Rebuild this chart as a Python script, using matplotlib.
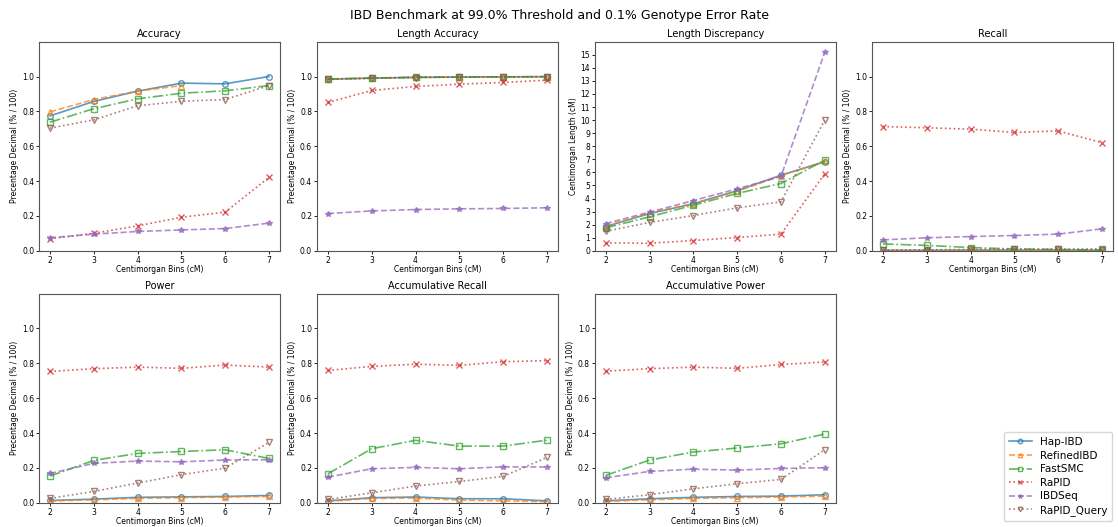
import numpy as np
import matplotlib
matplotlib.use("Agg")
import matplotlib.pyplot as plt

bins = [2, 3, 4, 5, 6, 7]
tools = ["Hap-IBD", "RefinedIBD", "FastSMC", "RaPID", "IBDSeq", "RaPID_Query"]
nan = np.nan

accuracy = {
    "Hap-IBD":     [0.774, 0.857, 0.916, 0.962, 0.958, 1.000],
    "RefinedIBD":  [0.797, 0.868, 0.916, 0.948, nan, nan],
    "FastSMC":     [0.738, 0.815, 0.872, 0.904, 0.918, 0.948],
    "RaPID":       [0.069, 0.101, 0.143, 0.193, 0.222, 0.421],
    "IBDSeq":      [0.075, 0.096, 0.111, 0.120, 0.128, 0.159],
    "RaPID_Query": [0.704, 0.751, 0.832, 0.858, 0.868, 0.948],
}
length_accuracy = {
    "Hap-IBD":     [0.985, 0.991, 0.995, 0.997, 0.998, 0.999],
    "RefinedIBD":  [0.984, 0.990, 0.995, 0.997, 0.998, 0.999],
    "FastSMC":     [0.986, 0.991, 0.996, 0.997, 0.998, 0.999],
    "RaPID":       [0.851, 0.920, 0.943, 0.956, 0.966, 0.979],
    "IBDSeq":      [0.214, 0.229, 0.237, 0.241, 0.243, 0.247],
    "RaPID_Query": [0.983, 0.990, 0.994, 0.996, 0.997, 0.998],
}
length_discrepancy = {
    "Hap-IBD":     [1.86, 2.85, 3.60, 4.60, 5.79, 6.81],
    "RefinedIBD":  [1.90, 2.90, 3.62, 4.55, 5.75, 6.85],
    "FastSMC":     [1.76, 2.60, 3.49, 4.39, 5.15, 6.94],
    "RaPID":       [0.61, 0.58, 0.79, 1.02, 1.28, 5.89],
    "IBDSeq":      [2.09, 2.96, 3.85, 4.74, 5.69, 15.18],
    "RaPID_Query": [1.50, 2.17, 2.70, 3.29, 3.75, 10.00],
}
recall = {
    "Hap-IBD":     [0.003, 0.003, 0.004, 0.004, 0.004, 0.004],
    "RefinedIBD":  [0.002, 0.002, 0.003, 0.003, 0.003, 0.003],
    "FastSMC":     [0.040, 0.031, 0.019, 0.011, 0.008, 0.004],
    "RaPID":       [0.713, 0.706, 0.698, 0.679, 0.688, 0.620],
    "IBDSeq":      [0.063, 0.075, 0.082, 0.088, 0.096, 0.126],
    "RaPID_Query": [0.005, 0.006, 0.008, 0.010, 0.010, 0.012],
}
power = {
    "Hap-IBD":     [0.013, 0.021, 0.031, 0.034, 0.036, 0.042],
    "RefinedIBD":  [0.010, 0.017, 0.025, 0.029, 0.033, 0.036],
    "FastSMC":     [0.153, 0.243, 0.283, 0.294, 0.304, 0.254],
    "RaPID":       [0.753, 0.769, 0.778, 0.771, 0.790, 0.778],
    "IBDSeq":      [0.168, 0.226, 0.239, 0.235, 0.245, 0.247],
    "RaPID_Query": [0.025, 0.065, 0.113, 0.161, 0.199, 0.346],
}
acc_recall = {
    "Hap-IBD":     [0.011, 0.029, 0.033, 0.023, 0.023, 0.011],
    "RefinedIBD":  [0.008, 0.025, 0.027, 0.015, 0.011, 0.006],
    "FastSMC":     [0.166, 0.310, 0.358, 0.325, 0.325, 0.359],
    "RaPID":       [0.759, 0.782, 0.795, 0.788, 0.809, 0.815],
    "IBDSeq":      [0.147, 0.195, 0.203, 0.195, 0.206, 0.205],
    "RaPID_Query": [0.019, 0.057, 0.096, 0.122, 0.151, 0.260],
}
acc_power = {
    "Hap-IBD":     [0.011, 0.023, 0.031, 0.036, 0.038, 0.046],
    "RefinedIBD":  [0.008, 0.017, 0.025, 0.029, 0.033, 0.038],
    "FastSMC":     [0.157, 0.245, 0.291, 0.314, 0.338, 0.394],
    "RaPID":       [0.755, 0.769, 0.778, 0.771, 0.793, 0.807],
    "IBDSeq":      [0.143, 0.180, 0.193, 0.187, 0.197, 0.201],
    "RaPID_Query": [0.019, 0.046, 0.080, 0.109, 0.134, 0.304],
}

panels = [
    ("Accuracy", accuracy, "Precentage Decimal (% / 100)"),
    ("Length Accuracy", length_accuracy, "Precentage Decimal (% / 100)"),
    ("Length Discrepancy", length_discrepancy, "Centimorgan Length (cM)"),
    ("Recall", recall, "Precentage Decimal (% / 100)"),
    ("Power", power, "Precentage Decimal (% / 100)"),
    ("Accumulative Recall", acc_recall, "Precentage Decimal (% / 100)"),
    ("Accumulative Power", acc_power, "Precentage Decimal (% / 100)"),
]

styles = {
    "Hap-IBD":     dict(color="C0", ls="-", marker="o", mfc="none"),
    "RefinedIBD":  dict(color="C1", ls="--", marker="^", mfc="none"),
    "FastSMC":     dict(color="C2", ls="-.", marker="s", mfc="none"),
    "RaPID":       dict(color="C3", ls=":", marker="x", mfc="C3"),
    "IBDSeq":      dict(color="C4", ls="--", marker="*", mfc="C4"),
    "RaPID_Query": dict(color="C5", ls=":", marker="v", mfc="none"),
}

fig = plt.figure(figsize=(11.18, 5.27), dpi=100)
fig.suptitle("IBD Benchmark at 99.0% Threshold and 0.1% Genotype Error Rate",
             fontsize=9, y=0.983)

lefts = [0.0349, 0.2835, 0.532, 0.780]
width = 0.2155
bottoms = [0.524, 0.046]
height = 0.397

handles = []
for i, (title, data, ylabel) in enumerate(panels):
    r, c = divmod(i, 4)
    ax = fig.add_axes([lefts[c], bottoms[r], width, height])
    for t in tools:
        st = styles[t]
        ln, = ax.plot(bins, data[t], color=st["color"], linestyle=st["ls"],
                      marker=st["marker"], markerfacecolor=st["mfc"],
                      markersize=4, linewidth=1.2, alpha=0.75, label=t)
        if i == 0:
            handles.append(ln)
    ax.set_title(title, fontsize=7, pad=3)
    ax.set_xlabel("Centimorgan Bins (cM)", fontsize=5.5, labelpad=0.5)
    ax.set_ylabel(ylabel, fontsize=5.5, labelpad=2)
    ax.set_xticks(bins)
    if title == "Length Discrepancy":
        ax.set_ylim(0, 16)
        ax.set_yticks(range(0, 16))
    else:
        ax.set_ylim(0, 1.2)
        ax.set_yticks([0.0, 0.2, 0.4, 0.6, 0.8, 1.0])
    ax.tick_params(labelsize=5.5, length=2.5, width=0.6, pad=1.0)
    for sp in ax.spines.values():
        sp.set_color("#555555")
        sp.set_linewidth(0.8)

fig.legend(handles, tools, loc="lower right", bbox_to_anchor=(0.9995, 0.002),
           fontsize=7.5, frameon=True, handlelength=2.2, labelspacing=0.35,
           borderpad=0.45, markerscale=0.8)

fig.savefig("out.png", dpi=100)
